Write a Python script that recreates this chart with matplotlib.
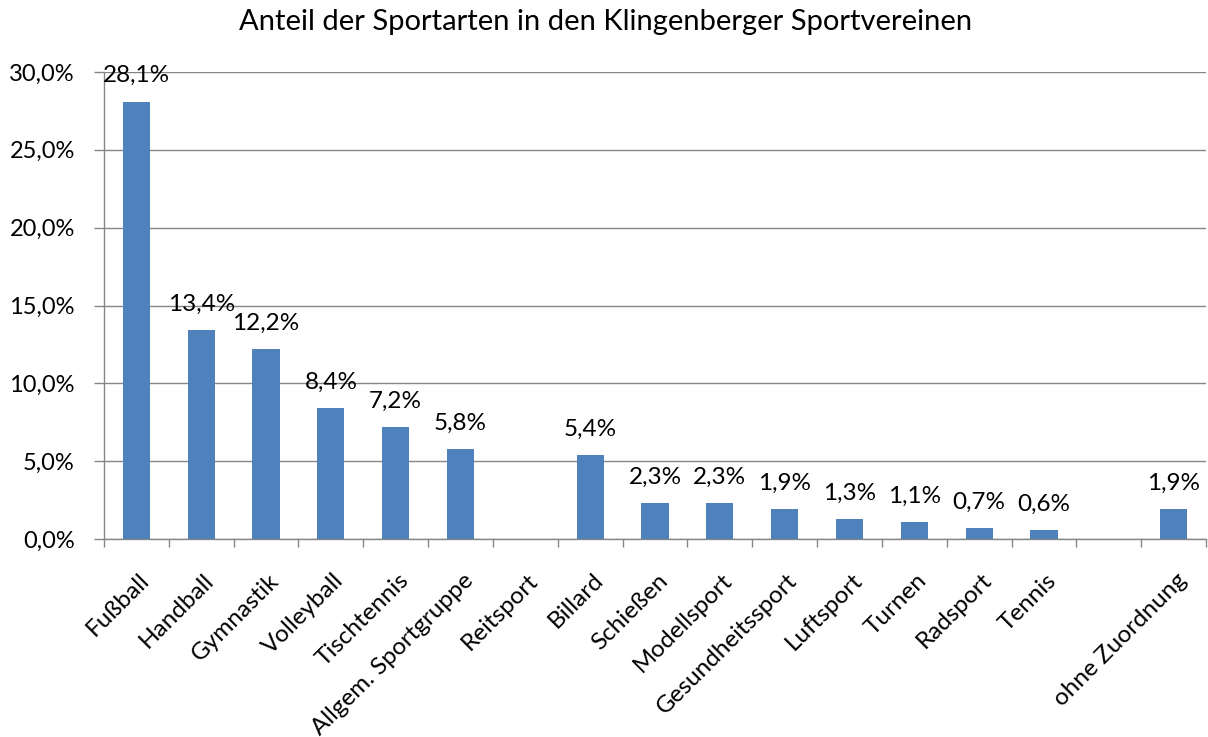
import matplotlib
matplotlib.use("Agg")
import matplotlib.pyplot as plt
import matplotlib.transforms as mtransforms
import numpy as np

categories = ["Fußball", "Handball", "Gymnastik", "Volleyball", "Tischtennis",
              "Allgem. Sportgruppe", "Reitsport", "Billard", "Schießen",
              "Modellsport", "Gesundheitssport", "Luftsport", "Turnen",
              "Radsport", "Tennis", "", "ohne Zuordnung"]
values = [28.1, 13.4, 12.2, 8.4, 7.2, 5.8, np.nan, 5.4, 2.3, 2.3, 1.9, 1.3,
          1.1, 0.7, 0.6, np.nan, 1.9]
yticks = [0, 5, 10, 15, 20, 25, 30]

plt.rcParams['font.family'] = ['Lato', 'DejaVu Sans']

fig = plt.figure(figsize=(12.08, 7.37), dpi=100)
ax = fig.add_axes([104/1208, 1-539/737, (1206-104)/1208, (539-72)/737])

x = np.arange(len(categories))
bar_color = "#4F81BD"
ax.bar(x, np.nan_to_num(values), width=0.42, color=bar_color, zorder=3)

for xi, v in zip(x, values):
    if not np.isnan(v):
        ax.annotate(f"{v:.1f}%".replace(".", ","), (xi, v), xytext=(0, 11),
                    textcoords="offset points", ha="center", va="bottom",
                    fontsize=17.5, color="#000000")

ax.set_xlim(-0.5, len(categories) - 0.5)
ax.set_ylim(0, 30)
ax.set_yticks(yticks)
ax.set_yticklabels([f"{t:.1f}%".replace(".", ",") for t in yticks], fontsize=17)
ax.yaxis.grid(True, color="#868686", linewidth=1.0, zorder=0)
ax.set_axisbelow(True)

ax.set_xticks(x)
ax.set_xticklabels(categories, rotation=45, ha="right", va="top",
                   rotation_mode="anchor", fontsize=17.5)
ax.tick_params(axis="x", which="major", length=0, pad=22)
offset = mtransforms.ScaledTranslation(2/100, 0, fig.dpi_scale_trans)
for lbl in ax.get_xticklabels():
    lbl.set_transform(lbl.get_transform() + offset)
ax.set_xticks(np.arange(-0.5, len(categories) + 0.5, 1), minor=True)
ax.tick_params(axis="x", which="minor", length=5.5, color="#868686", width=1)
ax.tick_params(axis="y", length=7, color="#868686", width=1, pad=14)

for s in ["top", "right"]:
    ax.spines[s].set_visible(False)
for s in ["left", "bottom"]:
    ax.spines[s].set_color("#868686")
    ax.spines[s].set_linewidth(1)

fig.text(0.5 * (237 + 975) / 1208, 1 - 22/737,
         "Anteil der Sportarten in den Klingenberger Sportvereinen",
         ha="center", va="center", fontsize=21)

fig.savefig("out.png", dpi=100)
